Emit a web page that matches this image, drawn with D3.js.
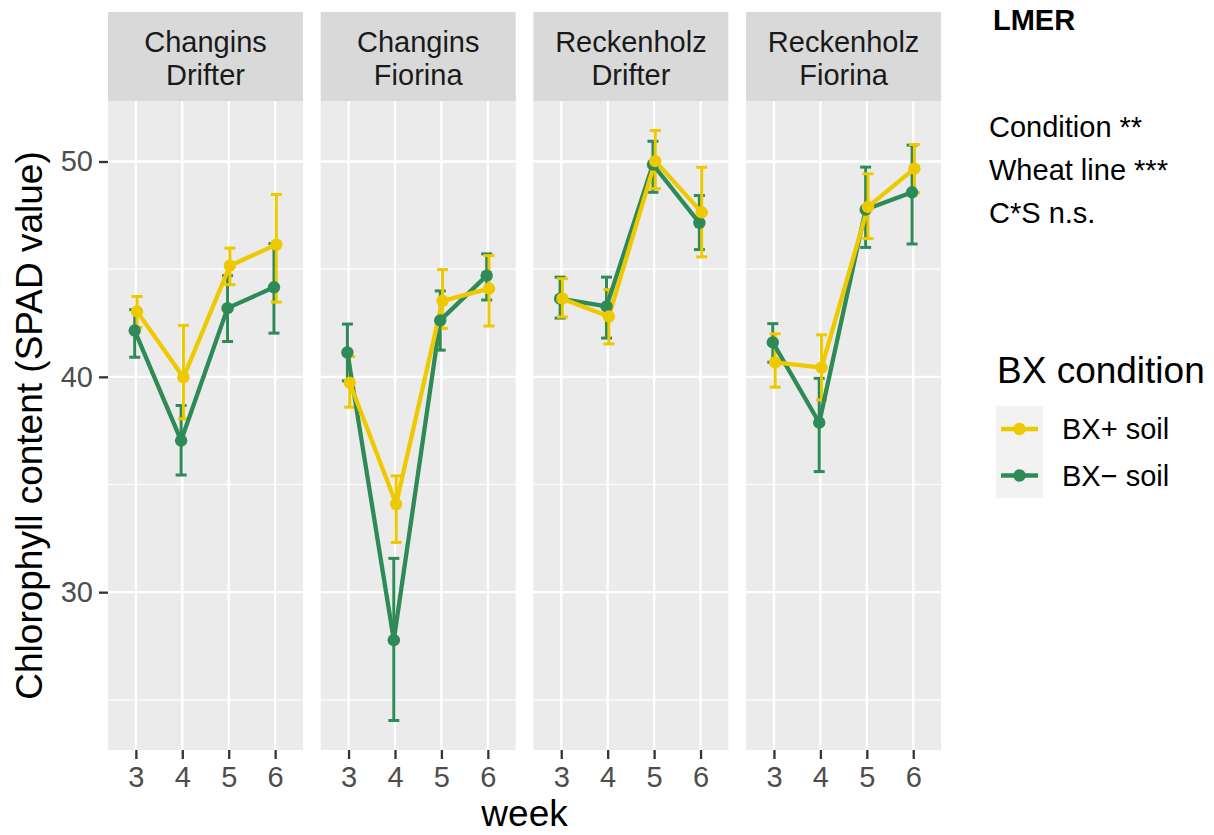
<!DOCTYPE html>
<html>
<head>
<meta charset="utf-8">
<script src="https://cdn.jsdelivr.net/npm/d3@7"></script>
<style>
  html, body { margin: 0; padding: 0; background: #ffffff; }
  svg { display: block; font-family: "Liberation Sans", Arial, Helvetica, sans-serif; }
</style>
</head>
<body>
<svg id="chart" width="1214" height="835"></svg>
<script>
// ---------- data ----------
const panels = [["Changins", "Drifter"], ["Changins", "Fiorina"], ["Reckenholz", "Drifter"], ["Reckenholz", "Fiorina"]];
const weeks = [3, 4, 5, 6];
const seriesNames = ["BX+ soil", "BX\u2212 soil"];
const seriesColors = ["#EEC900", "#2E8B57"];

// BX+ soil (one row per panel, values per week)
const plusMean = [[43.04, 39.97, 45.16, 46.14], [39.73, 34.09, 43.53, 44.10], [43.63, 42.80, 50.02, 47.64], [40.67, 40.43, 47.89, 49.67]];
const plusLo   = [[42.30, 38.05, 44.28, 43.47], [38.59, 32.31, 42.25, 42.36], [42.78, 41.53, 48.74, 45.57], [39.52, 38.93, 46.42, 48.55]];
const plusHi   = [[43.73, 42.39, 45.98, 48.47], [40.94, 35.40, 44.98, 45.63], [44.56, 44.05, 51.44, 49.73], [42.00, 41.95, 49.43, 50.79]];
// BX- soil
const minusMean = [[42.15, 37.04, 43.19, 44.16], [41.13, 27.77, 42.62, 44.70], [43.63, 43.27, 49.86, 47.15], [41.60, 37.87, 47.77, 48.57]];
const minusLo   = [[40.91, 35.44, 41.64, 42.03], [39.81, 24.04, 41.24, 43.57], [42.73, 41.80, 48.57, 45.91], [40.68, 35.60, 46.01, 46.17]];
const minusHi   = [[43.12, 38.67, 44.70, 46.19], [42.45, 31.57, 43.99, 45.71], [44.63, 44.63, 50.94, 48.42], [42.47, 39.93, 49.74, 50.76]];

const yMajor = [30, 40, 50];
const yMinor = [25, 35, 45];
const annoTitle = "LMER";
const annoLines = ["Condition **", "Wheat line ***", "C*S n.s."];
const xTitle = "week";
const yTitle = "Chlorophyll content (SPAD value)";
const legendTitle = "BX condition";

// ---------- layout ----------
const svg = d3.select("#chart");
const panelLeft = 108, panelW = 195, panelGap = 17.7;
const stripTop = 12, panelTop = 101, panelBottom = 750;
const smallFont = 29, titleFont = 37;

const allVals = [plusLo, plusHi, minusLo, minusHi].flat(2);
const lo = d3.min(allVals), hi = d3.max(allVals);
const pad = (hi - lo) * 0.05;
const y = d3.scaleLinear().domain([lo - pad, hi + pad]).range([panelBottom, panelTop]);
const x = d3.scaleLinear().domain([2.4, 6.6]).range([0, panelW]);
const dodge = 0.025; // in week units

const series = [
  { name: seriesNames[0], color: seriesColors[0], mean: plusMean, lo: plusLo, hi: plusHi, off: dodge },
  { name: seriesNames[1], color: seriesColors[1], mean: minusMean, lo: minusLo, hi: minusHi, off: -dodge }
];
const drawOrder = [series[1], series[0]];

panels.forEach((lab, pi) => {
  const px = panelLeft + pi * (panelW + panelGap);
  const g = svg.append("g").attr("transform", `translate(${px},0)`);
  // background
  g.append("rect").attr("x", 0).attr("y", panelTop).attr("width", panelW).attr("height", panelBottom - panelTop).attr("fill", "#EBEBEB");
  // minor grid
  g.selectAll(".minor").data(yMinor).enter().append("line")
    .attr("x1", 0).attr("x2", panelW).attr("y1", d => y(d)).attr("y2", d => y(d))
    .attr("stroke", "#ffffff").attr("stroke-width", 1.1);
  // major grid
  g.selectAll(".major").data(yMajor).enter().append("line")
    .attr("x1", 0).attr("x2", panelW).attr("y1", d => y(d)).attr("y2", d => y(d))
    .attr("stroke", "#ffffff").attr("stroke-width", 2.3);
  g.selectAll(".vmajor").data(weeks).enter().append("line")
    .attr("x1", d => x(d)).attr("x2", d => x(d)).attr("y1", panelTop).attr("y2", panelBottom)
    .attr("stroke", "#ffffff").attr("stroke-width", 2.3);
  // strip
  g.append("rect").attr("x", 0).attr("y", stripTop).attr("width", panelW).attr("height", panelTop - stripTop).attr("fill", "#D9D9D9");
  g.append("text").attr("x", panelW / 2).attr("y", 52).attr("text-anchor", "middle").attr("font-size", smallFont).attr("fill", "#1A1A1A").text(lab[0]);
  g.append("text").attr("x", panelW / 2).attr("y", 85).attr("text-anchor", "middle").attr("font-size", smallFont).attr("fill", "#1A1A1A").text(lab[1]);

  // x axis
  const xAxis = g.append("g").attr("transform", `translate(0,${panelBottom})`)
    .call(d3.axisBottom(x).tickValues(weeks).tickFormat(d3.format("d")).tickSize(9).tickPadding(7));
  xAxis.select(".domain").remove();
  xAxis.selectAll(".tick line").attr("stroke", "#333333").attr("stroke-width", 2.3);
  xAxis.selectAll(".tick text").attr("font-size", smallFont).attr("fill", "#4D4D4D").attr("font-family", "Liberation Sans, Arial, sans-serif");

  // error bars
  drawOrder.forEach(s => {
    const eg = g.append("g");
    weeks.forEach((w, wi) => {
      const cx = x(w + s.off);
      eg.append("line").attr("x1", cx).attr("x2", cx).attr("y1", y(s.lo[pi][wi])).attr("y2", y(s.hi[pi][wi]))
        .attr("stroke", s.color).attr("stroke-width", 3);
      [s.lo[pi][wi], s.hi[pi][wi]].forEach(v => {
        eg.append("line").attr("x1", cx - 5.5).attr("x2", cx + 5.5).attr("y1", y(v)).attr("y2", y(v))
          .attr("stroke", s.color).attr("stroke-width", 3);
      });
    });
  });
  // lines
  drawOrder.forEach(s => {
    const line = d3.line().x((d, i) => x(weeks[i] + s.off)).y(d => y(d));
    g.append("path").attr("d", line(s.mean[pi])).attr("fill", "none").attr("stroke", s.color)
      .attr("stroke-width", 4.3).attr("stroke-linejoin", "round");
  });
  // points
  drawOrder.forEach(s => {
    g.selectAll(null).data(s.mean[pi]).enter().append("circle")
      .attr("cx", (d, i) => x(weeks[i] + s.off)).attr("cy", d => y(d)).attr("r", 6.2).attr("fill", s.color);
  });
});

// y axis (left of first panel)
const yAxis = svg.append("g").attr("transform", `translate(${panelLeft},0)`)
  .call(d3.axisLeft(y).tickValues(yMajor).tickSize(9).tickPadding(6));
yAxis.select(".domain").remove();
yAxis.selectAll(".tick line").attr("stroke", "#333333").attr("stroke-width", 2.3);
yAxis.selectAll(".tick text").attr("font-size", smallFont).attr("fill", "#4D4D4D").attr("font-family", "Liberation Sans, Arial, sans-serif");

// axis titles
const panelsRight = panelLeft + 4 * panelW + 3 * panelGap;
svg.append("text").attr("x", (panelLeft + panelsRight) / 2).attr("y", 826).attr("text-anchor", "middle")
  .attr("font-size", titleFont).attr("fill", "#000").text(xTitle);
svg.append("text").attr("transform", `translate(42,${(panelTop + panelBottom) / 2}) rotate(-90)`)
  .attr("text-anchor", "middle").attr("font-size", titleFont).attr("fill", "#000").text(yTitle);

// annotation
svg.append("text").attr("x", 993).attr("y", 30).attr("font-size", smallFont).attr("font-weight", "bold").attr("fill", "#000").text(annoTitle);
annoLines.forEach((t, i) => {
  svg.append("text").attr("x", 989).attr("y", 137 + i * 43).attr("font-size", smallFont).attr("fill", "#000").text(t);
});

// legend
svg.append("text").attr("x", 997).attr("y", 383).attr("font-size", titleFont).attr("fill", "#000").text(legendTitle);
svg.append("rect").attr("x", 996).attr("y", 406).attr("width", 47).attr("height", 92).attr("fill", "#F2F2F2");
series.forEach((s, i) => {
  const cy = 429 + i * 46.5;
  svg.append("line").attr("x1", 1001).attr("x2", 1038).attr("y1", cy).attr("y2", cy).attr("stroke", s.color).attr("stroke-width", 4.3);
  svg.append("circle").attr("cx", 1019.5).attr("cy", cy).attr("r", 6.2).attr("fill", s.color);
  svg.append("text").attr("x", 1062).attr("y", cy + 10).attr("font-size", smallFont).attr("fill", "#000").text(s.name);
});
</script>
</body>
</html>
